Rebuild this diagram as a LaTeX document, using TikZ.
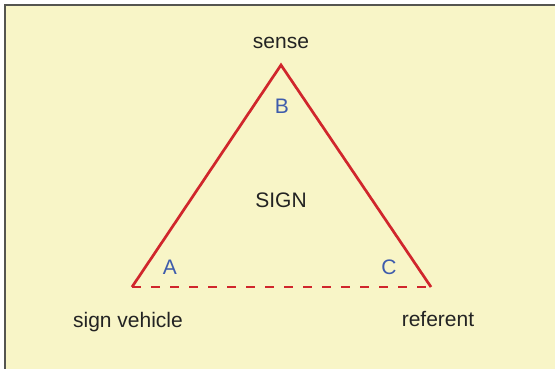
\documentclass[tikz,border=0pt]{standalone}
\usepackage{fontspec}
\setmainfont{Liberation Sans}
\definecolor{bgyellow}{RGB}{248,245,199}
\definecolor{framegray}{RGB}{85,85,80}
\definecolor{linered}{RGB}{208,38,44}
\definecolor{labelblue}{RGB}{62,92,172}
\definecolor{textgray}{RGB}{35,35,35}
\begin{document}
\begin{tikzpicture}[x=1pt,y=-1pt,
  word/.style={text=textgray,inner sep=0pt,anchor=base,font=\fontsize{21}{25}\selectfont},
  corner/.style={text=labelblue,inner sep=0pt,font=\fontsize{21}{25}\selectfont},
  side/.style={draw=linered,line width=2.7pt}]
  \useasboundingbox (0,0) rectangle (555,368);
  % 背景と枠 (右と下は切れている)
  \fill[white] (0,0) rectangle (555,368);
  \fill[bgyellow] (5,5) rectangle (556,369);
  \draw[framegray,line width=2.4pt] (5,369) -- (5,5) -- (556,5);
  % 三角形の頂点
  \coordinate (top) at (281,65);
  \coordinate (left) at (132,287);
  \coordinate (right) at (431,287);
  \draw[side,line join=miter] (left) -- (top) -- (right);
  \draw[side,dash pattern=on 9pt off 10pt] (left) -- (right);
  % ラベル
  \node[word] (sense) at (281,48) {sense};
  \node[word] (vehicle) at (128,327) {sign vehicle};
  \node[word] (referent) at (438,326) {referent};
  \node[corner,text=textgray] (sign) at (281,200) {SIGN};
  \node[corner] (B) at (282,106) {B};
  \node[corner] (A) at (170,267) {A};
  \node[corner] (C) at (389,267) {C};
\end{tikzpicture}
\end{document}
